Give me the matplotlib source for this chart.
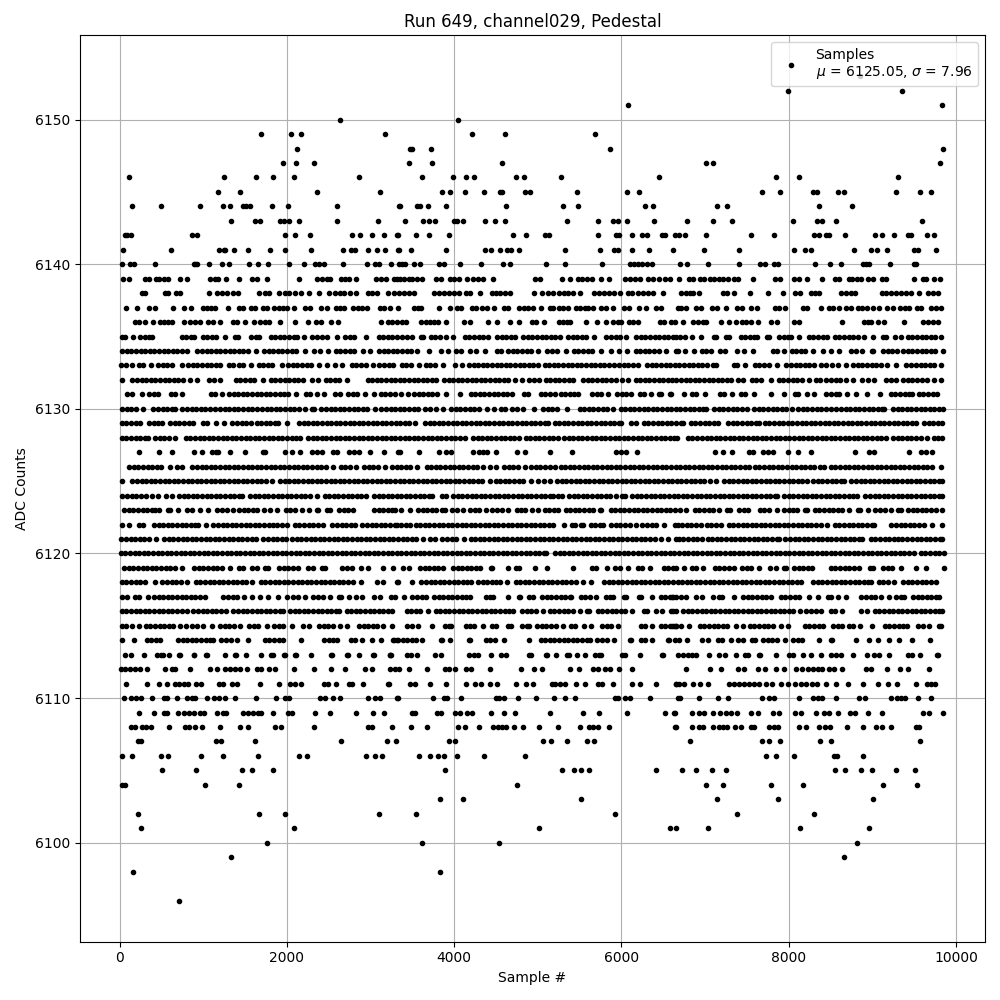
import matplotlib
matplotlib.use('Agg')
import matplotlib.pyplot as plt

# sample numbers, one list per ADC level
x_6153 = [8850]
x_6152 = [7995, 9350]
x_6151 = [6076, 9829]
x_6150 = [2633, 4044]
x_6149 = [1689, 2048, 2167, 3171, 4211, 4606, 5681]
x_6148 = [2119, 3470, 3492, 3721, 5860, 9841]
x_6147 = [1952, 2107, 2323, 3458, 3733, 4570, 7012, 7092, 9805]
x_6146 = [111, 1247, 1629, 1833, 2084, 2860, 3614, 3984, 4139, 4235, 4737, 4833, 5275, 6446, 7845, 8120, 9303]
x_6145 = [1175, 1438, 2358, 3112, 3853, 3948, 4127, 4355, 4550, 4570, 4850, 4904, 5466, 6064, 6207, 7677, 7892, 8287, 8335, 8586, 8657, 9279, 9566, 9697]
x_6144 = [147, 494, 960, 1235, 1319, 1478, 1510, 1562, 1820, 2012, 2598, 3335, 3351, 3554, 3594, 3685, 3900, 4617, 5299, 5478, 6279, 6375, 7139, 7259, 8359, 8753]
x_6143 = [1331, 1617, 1681, 1920, 1960, 2024, 2143, 2598, 3088, 3410, 3625, 3697, 3769, 3992, 4032, 4104, 4367, 4486, 4606, 5347, 5717, 5896, 5956, 6064, 6386, 6780, 7092, 7319, 8048, 8335, 8398, 8562, 9590]
x_6142 = [60, 88, 139, 865, 924, 1976, 2096, 2275, 2777, 2872, 3016, 3159, 3315, 3327, 3542, 3697, 3936, 4701, 4857, 5080, 5131, 5717, 5932, 5972, 6131, 6243, 6303, 6482, 6522, 6641, 6693, 6757, 7012, 7546, 7821, 8299, 8359, 8446, 8478, 8669, 9028, 9112, 9255, 9422, 9462, 9649, 9733]
x_6141 = [40, 614, 1191, 1243, 1263, 1367, 1534, 1797, 1976, 2287, 2669, 2761, 2809, 2968, 3076, 3171, 3327, 3339, 3482, 3900, 4367, 4438, 4550, 4630, 4678, 4773, 5323, 5741, 5916, 5956, 6124, 6327, 6613, 6984, 7402, 8060, 8199, 8263, 8777, 8980, 9052, 9171, 9494, 9542, 9757]
x_6140 = [28, 120, 167, 418, 884, 905, 924, 1068, 1223, 1307, 1546, 1653, 1773, 2024, 2203, 2331, 2379, 2438, 2669, 2956, 3056, 3104, 3243, 3335, 3375, 3415, 3514, 3586, 3813, 3873, 4064, 4319, 4582, 4665, 5096, 5323, 5765, 6104, 6155, 6203, 6251, 6303, 6363, 6697, 6781, 7032, 7402, 7657, 7721, 7829, 7869, 8311, 8490, 8622, 8884, 8924, 8964, 9207, 9494, 9522]
x_6139 = [40, 108, 307, 347, 434, 474, 526, 578, 721, 805, 1084, 1135, 1175, 1271, 1426, 1582, 1641, 1761, 2148, 2359, 2418, 2478, 2518, 2645, 2697, 2737, 2825, 3068, 3127, 3187, 3275, 3315, 3350, 3394, 3454, 3494, 3554, 3614, 3785, 3845, 3952, 4000, 4060, 4151, 4219, 4283, 4343, 4462, 4960, 5028, 5287, 5382, 5478, 5526, 5586, 5653, 5757, 5853, 6044, 6104, 6163, 6223, 6323, 6383, 6450, 6522, 6582, 6685, 6805, 6853, 6940, 6992, 7060, 7112, 7171, 7211, 7271, 7351, 7390, 7570, 7841, 7896, 8068, 8127, 8215, 8394, 8558, 8598, 8725, 8757, 8813, 8865, 8944, 9004, 9116, 9163, 9494, 9602, 9641, 9733, 9809]
x_6138 = [267, 299, 538, 578, 673, 721, 1068, 1163, 1223, 1283, 1351, 1414, 1669, 1741, 1789, 1904, 1972, 2020, 2100, 2167, 2267, 2379, 2498, 2578, 2637, 2677, 2757, 2825, 2968, 3016, 3076, 3207, 3275, 3335, 3394, 3454, 3514, 3753, 3813, 3873, 3932, 3992, 4052, 4139, 4183, 4307, 4450, 4498, 4550, 4610, 4669, 4952, 5048, 5127, 5187, 5247, 5307, 5366, 5426, 5506, 5673, 5733, 5797, 5853, 5912, 5988, 6084, 6124, 6203, 6263, 6323, 6375, 6494, 6713, 6773, 6821, 6861, 6924, 7211, 7259, 7343, 7534, 7749, 7928, 8072, 8131, 8263, 8319, 8367, 8625, 8685, 8745, 8793, 9116, 9163, 9223, 9283, 9343, 9402, 9462, 9562, 9661, 9721, 9781]
x_6137 = [76, 207, 351, 426, 637, 769, 857, 996, 1044, 1092, 1143, 1295, 1422, 1474, 1570, 1621, 1709, 1757, 1849, 1900, 1948, 2000, 2088, 2219, 2279, 2402, 2478, 2586, 2637, 2685, 2789, 2849, 2896, 2956, 3116, 3159, 3235, 3327, 3514, 3566, 3606, 3817, 3948, 4032, 4084, 4211, 4259, 4331, 4394, 4478, 4590, 4649, 4769, 4829, 4888, 4948, 5040, 5147, 5187, 5247, 5295, 5359, 5454, 5506, 5566, 5594, 5657, 5757, 5813, 5896, 6036, 6092, 6211, 6291, 6414, 6474, 6673, 6713, 6773, 6892, 6952, 7084, 7139, 7251, 7382, 7442, 7550, 7618, 7841, 7880, 7952, 8167, 8215, 8382, 8486, 8526, 8598, 8685, 8745, 8825, 8876, 8932, 9004, 9076, 9175, 9251, 9331, 9394, 9442, 9530, 9582, 9701, 9761, 9821]
x_6136 = [187, 227, 299, 402, 482, 526, 578, 625, 765, 845, 904, 964, 1056, 1112, 1199, 1351, 1402, 1494, 1610, 1673, 1733, 1789, 1920, 2096, 2251, 2347, 2406, 2530, 2610, 3128, 3207, 3255, 3315, 3375, 3426, 3602, 3661, 3713, 3753, 3805, 3904, 4112, 4183, 4402, 4513, 4665, 4769, 4928, 4976, 5068, 5247, 5295, 5347, 5386, 5574, 5705, 5813, 5896, 5956, 5992, 6092, 6143, 6203, 6462, 6514, 6594, 6641, 6733, 6861, 6912, 6972, 7012, 7187, 7283, 7367, 7442, 7490, 7550, 7637, 7785, 7857, 8068, 8127, 8634, 8904, 8944, 8984, 9064, 9135, 9374, 9610, 9661, 9721, 9781]
x_6135 = [30, 60, 155, 245, 300, 355, 385, 740, 795, 850, 890, 990, 1045, 1100, 1150, 1259, 1375, 1410, 1575, 1630, 1670, 1805, 1860, 1915, 1970, 2030, 2085, 2125, 2207, 2305, 2360, 2420, 2480, 2598, 2695, 2750, 2800, 2948, 3095, 3150, 3205, 3260, 3310, 3370, 3430, 3490, 3600, 3630, 3720, 3775, 3830, 3905, 3988, 4125, 4180, 4240, 4295, 4350, 4405, 4515, 4570, 4625, 4680, 4725, 4825, 4880, 4935, 4990, 5045, 5100, 5155, 5210, 5260, 5360, 5415, 5470, 5525, 5580, 5670, 5815, 5870, 5930, 5985, 6052, 6175, 6230, 6285, 6340, 6395, 6450, 6505, 6560, 6615, 6650, 6705, 6760, 6845, 6955, 7105, 7130, 7245, 7280, 7425, 7480, 7535, 7590, 7615, 7735, 7765, 7885, 7940, 7995, 8025, 8120, 8240, 8295, 8350, 8405, 8460, 8550, 8605, 8660, 8715, 8770, 8825, 8900, 9004, 9125, 9160, 9265, 9340, 9425, 9480, 9535, 9590, 9645, 9700, 9755, 9815]
x_6134 = [30, 85, 140, 195, 250, 305, 360, 415, 470, 525, 580, 635, 690, 745, 800, 930, 985, 1040, 1095, 1150, 1205, 1260, 1315, 1370, 1425, 1480, 1535, 1635, 1725, 1780, 1835, 1890, 1945, 2000, 2055, 2110, 2215, 2325, 2395, 2490, 2585, 2640, 2695, 2750, 2805, 2910, 2996, 3100, 3155, 3210, 3265, 3320, 3375, 3430, 3485, 3550, 3701, 3840, 3925, 4025, 4080, 4185, 4259, 4371, 4515, 4565, 4645, 4700, 4755, 4810, 4865, 4920, 5000, 5115, 5170, 5225, 5340, 5430, 5485, 5540, 5595, 5650, 5760, 5870, 5965, 6064, 6170, 6225, 6280, 6335, 6390, 6445, 6535, 6649, 6680, 6765, 6865, 6960, 7010, 7065, 7175, 7235, 7385, 7470, 7570, 7815, 7855, 7948, 8035, 8090, 8145, 8200, 8290, 8414, 8505, 8605, 8750, 8805, 8880, 8990, 9005, 9130, 9185, 9240, 9295, 9370, 9425, 9480, 9535, 9590, 9645, 9700, 9755, 9840]
x_6133 = [15, 70, 145, 225, 280, 375, 460, 515, 570, 625, 750, 820, 875, 930, 985, 1040, 1095, 1150, 1205, 1305, 1360, 1425, 1480, 1575, 1660, 1715, 1770, 1825, 1935, 2015, 2070, 2125, 2180, 2235, 2290, 2385, 2475, 2575, 2660, 2775, 2830, 2885, 2940, 3025, 3105, 3160, 3215, 3265, 3372, 3427, 3482, 3575, 3658, 3713, 3768, 3860, 4015, 4092, 4176, 4231, 4286, 4341, 4396, 4451, 4506, 4561, 4616, 4671, 4726, 4781, 4836, 4891, 4946, 5000, 5081, 5136, 5191, 5246, 5301, 5356, 5411, 5466, 5521, 5576, 5631, 5686, 5741, 5796, 5851, 5906, 5965, 6025, 6080, 6135, 6198, 6308, 6363, 6418, 6473, 6528, 6583, 6638, 6693, 6748, 6803, 6858, 6913, 6968, 7020, 7097, 7134, 7348, 7377, 7482, 7595, 7650, 7705, 7760, 7855, 7973, 8028, 8083, 8138, 8193, 8248, 8303, 8389, 8451, 8521, 8586, 8685, 8770, 8825, 8880, 8935, 8990, 9045, 9100, 9178, 9288, 9397, 9467, 9522, 9577, 9632, 9687, 9742, 9825]
x_6132 = [28, 152, 207, 262, 317, 372, 427, 482, 537, 592, 647, 702, 757, 840, 928, 1069, 1124, 1198, 1388, 1443, 1498, 1553, 1608, 1716, 1806, 1861, 1916, 1971, 2026, 2081, 2136, 2194, 2304, 2373, 2463, 2518, 2573, 2628, 2712, 2965, 3020, 3075, 3130, 3185, 3240, 3295, 3350, 3405, 3460, 3515, 3570, 3625, 3680, 3735, 3788, 3878, 3933, 3988, 4043, 4098, 4153, 4208, 4263, 4318, 4373, 4428, 4483, 4538, 4593, 4648, 4724, 4809, 4894, 4949, 5015, 5093, 5148, 5203, 5258, 5313, 5368, 5421, 5543, 5598, 5653, 5708, 5763, 5818, 5873, 5931, 6009, 6079, 6168, 6223, 6278, 6333, 6388, 6443, 6498, 6553, 6608, 6656, 6711, 6766, 6821, 6876, 6931, 6986, 7041, 7096, 7151, 7206, 7261, 7306, 7388, 7457, 7555, 7610, 7672, 7789, 7882, 7937, 7992, 8047, 8102, 8157, 8242, 8332, 8373, 8451, 8506, 8561, 8616, 8680, 8765, 8872, 8949, 9019, 9168, 9223, 9278, 9368, 9423, 9478, 9533, 9588, 9648, 9734, 9816]
x_6131 = [93, 148, 262, 352, 407, 461, 611, 665, 740, 1089, 1144, 1218, 1308, 1363, 1418, 1473, 1528, 1583, 1638, 1693, 1748, 1803, 1858, 1913, 1968, 2015, 2108, 2224, 2279, 2354, 2438, 2571, 2632, 2730, 2785, 2840, 2931, 3036, 3121, 3176, 3231, 3286, 3369, 3446, 3519, 3574, 3629, 3684, 3739, 3794, 3899, 4064, 4196, 4251, 4306, 4361, 4416, 4471, 4526, 4581, 4636, 4696, 4834, 4883, 5033, 5088, 5143, 5202, 5272, 5327, 5382, 5437, 5481, 5651, 5706, 5760, 5837, 5949, 6004, 6059, 6118, 6220, 6275, 6357, 6447, 6477, 6582, 6594, 6745, 6838, 6893, 6995, 7176, 7231, 7326, 7427, 7482, 7585, 7789, 7944, 8073, 8110, 8224, 8302, 8451, 8506, 8561, 8600, 8697, 8805, 8932, 9092, 9220, 9275, 9330, 9385, 9440, 9477, 9555, 9610, 9665, 9720, 9776]
x_6130 = [30, 85, 140, 195, 282, 403, 458, 513, 568, 623, 660, 750, 805, 860, 915, 970, 1025, 1075, 1145, 1200, 1255, 1310, 1365, 1420, 1475, 1530, 1577, 1646, 1701, 1756, 1811, 1866, 1921, 1976, 2031, 2086, 2141, 2214, 2296, 2322, 2411, 2466, 2521, 2576, 2631, 2686, 2741, 2796, 2851, 2906, 2961, 3051, 3129, 3184, 3239, 3294, 3349, 3404, 3459, 3514, 3569, 3650, 3705, 3780, 3865, 3965, 4020, 4075, 4130, 4185, 4234, 4291, 4396, 4473, 4555, 4610, 4696, 4749, 4821, 4956, 5065, 5120, 5175, 5230, 5353, 5499, 5554, 5609, 5664, 5719, 5774, 5829, 5899, 5989, 6044, 6099, 6154, 6209, 6264, 6319, 6374, 6429, 6484, 6539, 6594, 6649, 6704, 6759, 6814, 6869, 6924, 6979, 7007, 7109, 7164, 7219, 7274, 7329, 7384, 7439, 7505, 7587, 7642, 7697, 7752, 7807, 7862, 7917, 7972, 8043, 8113, 8168, 8223, 8278, 8333, 8388, 8443, 8501, 8571, 8626, 8681, 8736, 8791, 8846, 8901, 8956, 9011, 9066, 9121, 9138, 9248, 9303, 9358, 9413, 9468, 9523, 9578, 9633, 9688, 9743, 9798, 9850]
x_6129 = [25, 80, 135, 190, 242, 352, 407, 462, 501, 603, 658, 713, 768, 823, 871, 997, 1047, 1151, 1251, 1348, 1403, 1458, 1513, 1565, 1638, 1693, 1748, 1803, 1858, 1895, 2000, 2145, 2200, 2255, 2310, 2365, 2420, 2475, 2530, 2585, 2640, 2695, 2750, 2805, 2860, 2915, 2970, 3025, 3080, 3135, 3190, 3245, 3300, 3355, 3410, 3465, 3529, 3650, 3705, 3760, 3815, 3870, 3925, 3980, 4035, 4090, 4145, 4200, 4255, 4310, 4365, 4420, 4475, 4530, 4585, 4640, 4695, 4750, 4805, 4860, 4915, 4970, 5025, 5080, 5122, 5200, 5255, 5310, 5365, 5420, 5475, 5530, 5585, 5640, 5695, 5750, 5805, 5860, 5915, 5970, 5999, 6117, 6178, 6268, 6323, 6378, 6433, 6488, 6543, 6598, 6653, 6708, 6740, 6830, 6885, 6940, 6995, 7050, 7105, 7158, 7276, 7331, 7386, 7441, 7496, 7551, 7606, 7644, 7714, 7769, 7824, 7879, 7934, 7989, 8044, 8099, 8154, 8209, 8264, 8319, 8374, 8429, 8484, 8539, 8594, 8649, 8704, 8759, 8814, 8869, 8924, 8979, 9034, 9089, 9144, 9199, 9254, 9309, 9364, 9419, 9474, 9517, 9619, 9674, 9729, 9784, 9830]
x_6128 = [25, 80, 135, 190, 245, 300, 342, 423, 478, 533, 588, 660, 790, 845, 900, 955, 1010, 1065, 1120, 1175, 1230, 1285, 1340, 1395, 1450, 1505, 1560, 1615, 1670, 1725, 1780, 1835, 1890, 1945, 2000, 2055, 2110, 2154, 2252, 2307, 2362, 2417, 2472, 2527, 2582, 2637, 2692, 2747, 2802, 2857, 2912, 2967, 3022, 3077, 3132, 3187, 3242, 3297, 3352, 3407, 3462, 3517, 3572, 3627, 3682, 3737, 3792, 3847, 3902, 3957, 4012, 4067, 4126, 4224, 4279, 4334, 4389, 4444, 4499, 4554, 4609, 4664, 4719, 4774, 4854, 4909, 4964, 5019, 5074, 5129, 5184, 5239, 5312, 5367, 5422, 5477, 5532, 5587, 5642, 5697, 5752, 5807, 5862, 5917, 5972, 6027, 6082, 6137, 6192, 6247, 6302, 6357, 6412, 6467, 6522, 6577, 6632, 6668, 6790, 6845, 6900, 6967, 7017, 7072, 7127, 7182, 7237, 7292, 7347, 7402, 7457, 7512, 7567, 7622, 7677, 7732, 7787, 7842, 7897, 7952, 8007, 8062, 8117, 8172, 8227, 8282, 8337, 8392, 8447, 8502, 8557, 8612, 8667, 8722, 8777, 8832, 8887, 8942, 8997, 9052, 9107, 9158, 9248, 9303, 9358, 9413, 9468, 9523, 9578, 9648, 9734, 9789, 9830]
x_6127 = [231, 470, 625, 888, 984, 1109, 1150, 1178, 1319, 1498, 1718, 1736, 1980, 2060, 2159, 2299, 2358, 2418, 2546, 2598, 2737, 2797, 2857, 2996, 3159, 3327, 3355, 3574, 3813, 3900, 3964, 4223, 4299, 4340, 4394, 4498, 4749, 4845, 5143, 5406, 5940, 5996, 6052, 6183, 7124, 7211, 7319, 7522, 7570, 7689, 7749, 7817, 7988, 8116, 8263, 8793, 8964, 9024, 9434, 9582, 9641, 9713]
x_6126 = [113, 168, 223, 278, 333, 388, 443, 498, 600, 690, 740, 870, 925, 980, 1035, 1090, 1145, 1200, 1255, 1310, 1365, 1420, 1475, 1530, 1585, 1640, 1695, 1750, 1805, 1860, 1915, 1970, 2025, 2080, 2135, 2190, 2245, 2300, 2355, 2410, 2465, 2553, 2643, 2698, 2753, 2824, 2921, 2976, 3031, 3086, 3170, 3260, 3310, 3365, 3420, 3475, 3557, 3670, 3725, 3780, 3835, 3890, 3945, 4000, 4055, 4110, 4165, 4220, 4275, 4346, 4427, 4505, 4595, 4650, 4705, 4760, 4844, 4921, 4976, 5031, 5086, 5141, 5202, 5272, 5327, 5382, 5437, 5492, 5547, 5602, 5657, 5712, 5767, 5822, 5877, 5932, 5987, 6042, 6097, 6152, 6207, 6262, 6317, 6372, 6427, 6482, 6537, 6592, 6647, 6702, 6757, 6812, 6867, 6922, 6977, 7032, 7087, 7142, 7197, 7252, 7307, 7362, 7417, 7472, 7525, 7595, 7650, 7705, 7760, 7815, 7870, 7925, 7980, 8035, 8090, 8145, 8200, 8255, 8302, 8372, 8421, 8503, 8558, 8613, 8668, 8723, 8778, 8833, 8888, 8943, 8998, 9053, 9108, 9163, 9218, 9273, 9328, 9383, 9438, 9493, 9548, 9603, 9658, 9716, 9817]
x_6125 = [28, 152, 207, 262, 317, 372, 427, 482, 537, 592, 647, 702, 757, 812, 867, 922, 977, 1032, 1087, 1142, 1197, 1252, 1307, 1362, 1417, 1472, 1527, 1582, 1637, 1692, 1747, 1824, 1917, 1972, 2027, 2082, 2137, 2192, 2247, 2302, 2357, 2412, 2467, 2522, 2577, 2632, 2687, 2742, 2797, 2852, 2907, 2962, 3017, 3072, 3127, 3182, 3237, 3292, 3347, 3402, 3457, 3512, 3567, 3622, 3677, 3732, 3787, 3842, 3897, 3952, 4007, 4062, 4117, 4172, 4227, 4282, 4337, 4425, 4495, 4550, 4605, 4660, 4715, 4770, 4825, 4923, 5000, 5073, 5142, 5232, 5287, 5342, 5397, 5452, 5507, 5562, 5617, 5672, 5727, 5782, 5837, 5892, 5947, 6002, 6057, 6112, 6167, 6222, 6277, 6332, 6387, 6442, 6497, 6552, 6607, 6662, 6717, 6772, 6827, 6882, 6937, 6987, 7057, 7126, 7228, 7283, 7338, 7393, 7448, 7503, 7558, 7613, 7668, 7723, 7778, 7833, 7888, 7943, 7998, 8053, 8108, 8163, 8222, 8292, 8347, 8402, 8457, 8512, 8567, 8622, 8660, 8750, 8805, 8860, 8915, 8970, 9025, 9080, 9135, 9190, 9245, 9300, 9355, 9410, 9465, 9520, 9575, 9630, 9685, 9740, 9795, 9835]
x_6124 = [33, 88, 143, 198, 253, 314, 392, 461, 551, 620, 710, 765, 820, 875, 930, 985, 1040, 1095, 1150, 1205, 1260, 1315, 1370, 1425, 1457, 1559, 1614, 1669, 1724, 1779, 1834, 1889, 1944, 1999, 2054, 2109, 2164, 2219, 2274, 2358, 2451, 2506, 2561, 2616, 2671, 2726, 2781, 2836, 2891, 2951, 3041, 3096, 3151, 3206, 3261, 3310, 3365, 3420, 3475, 3530, 3585, 3640, 3695, 3740, 3858, 3907, 3989, 4044, 4099, 4154, 4209, 4264, 4319, 4374, 4429, 4484, 4539, 4594, 4649, 4704, 4759, 4814, 4869, 4924, 4979, 5034, 5089, 5144, 5182, 5244, 5294, 5372, 5427, 5482, 5537, 5592, 5647, 5702, 5757, 5812, 5867, 5939, 6009, 6039, 6129, 6184, 6239, 6294, 6349, 6404, 6459, 6514, 6569, 6624, 6679, 6734, 6789, 6844, 6899, 6954, 7009, 7064, 7119, 7174, 7229, 7284, 7339, 7394, 7449, 7504, 7559, 7614, 7669, 7724, 7779, 7834, 7863, 7945, 8000, 8055, 8110, 8165, 8220, 8275, 8330, 8385, 8440, 8495, 8550, 8605, 8660, 8715, 8770, 8820, 8917, 8972, 9027, 9082, 9137, 9192, 9247, 9302, 9357, 9412, 9467, 9522, 9577, 9632, 9687, 9742, 9797, 9832]
x_6123 = [53, 108, 163, 218, 273, 328, 383, 421, 474, 579, 600, 697, 810, 865, 959, 1056, 1168, 1223, 1278, 1350, 1427, 1482, 1537, 1592, 1644, 1726, 1796, 1880, 1985, 2040, 2095, 2184, 2262, 2356, 2373, 2475, 2513, 2623, 2678, 2733, 2792, 3041, 3096, 3151, 3206, 3261, 3290, 3368, 3477, 3567, 3622, 3677, 3732, 3780, 3858, 3887, 3977, 4032, 4106, 4188, 4243, 4298, 4385, 4455, 4510, 4577, 4649, 4746, 4801, 4844, 4933, 5003, 5081, 5136, 5191, 5242, 5332, 5387, 5442, 5497, 5552, 5607, 5660, 5742, 5760, 5870, 5925, 5980, 6035, 6090, 6145, 6200, 6255, 6310, 6365, 6420, 6475, 6530, 6585, 6640, 6695, 6768, 6878, 6933, 6988, 7043, 7098, 7166, 7256, 7298, 7407, 7462, 7513, 7654, 7709, 7764, 7863, 7945, 8000, 8055, 8102, 8192, 8214, 8312, 8367, 8422, 8477, 8532, 8587, 8642, 8720, 8830, 8851, 8944, 9037, 9092, 9147, 9226, 9308, 9337, 9427, 9482, 9537, 9592, 9647, 9702, 9757, 9830]
x_6122 = [25, 114, 232, 274, 411, 466, 521, 576, 631, 686, 741, 796, 851, 906, 939, 1032, 1121, 1176, 1231, 1286, 1341, 1396, 1451, 1506, 1561, 1616, 1671, 1726, 1781, 1836, 1875, 1945, 1995, 2093, 2148, 2203, 2258, 2313, 2368, 2433, 2543, 2598, 2653, 2708, 2763, 2812, 2902, 2957, 3012, 3067, 3122, 3177, 3232, 3287, 3310, 3365, 3420, 3477, 3539, 3594, 3649, 3704, 3759, 3814, 3869, 3924, 3979, 4034, 4089, 4144, 4199, 4254, 4309, 4364, 4419, 4474, 4529, 4584, 4639, 4694, 4749, 4804, 4859, 4914, 4969, 5024, 5079, 5134, 5182, 5307, 5411, 5441, 5519, 5541, 5631, 5686, 5741, 5780, 5878, 5933, 5988, 6043, 6098, 6170, 6243, 6308, 6363, 6418, 6505, 6641, 6670, 6725, 6780, 6835, 6890, 6955, 7017, 7072, 7127, 7194, 7284, 7339, 7394, 7449, 7497, 7555, 7610, 7665, 7720, 7775, 7830, 7885, 7940, 7995, 8050, 8105, 8160, 8215, 8270, 8325, 8380, 8461, 8551, 8606, 8661, 8716, 8771, 8826, 8881, 8936, 8991, 9019, 9228, 9283, 9338, 9393, 9448, 9503, 9558, 9616, 9713, 9829]
x_6121 = [20, 75, 130, 185, 240, 295, 350, 429, 531, 586, 641, 696, 751, 806, 861, 916, 971, 1026, 1081, 1136, 1191, 1246, 1301, 1356, 1411, 1466, 1521, 1576, 1631, 1708, 1774, 1829, 1884, 1939, 1994, 2055, 2117, 2172, 2227, 2282, 2337, 2392, 2447, 2502, 2557, 2612, 2667, 2722, 2777, 2832, 2887, 2942, 2997, 3052, 3107, 3162, 3217, 3272, 3327, 3382, 3437, 3492, 3547, 3628, 3710, 3765, 3848, 3917, 3972, 4027, 4114, 4196, 4251, 4306, 4361, 4416, 4471, 4526, 4581, 4636, 4691, 4746, 4801, 4856, 4911, 4966, 5021, 5076, 5131, 5186, 5241, 5296, 5351, 5406, 5461, 5516, 5571, 5626, 5681, 5736, 5791, 5846, 5901, 5956, 6011, 6066, 6121, 6176, 6231, 6286, 6341, 6396, 6477, 6554, 6658, 6686, 6741, 6796, 6851, 6906, 6967, 7029, 7084, 7139, 7194, 7249, 7304, 7359, 7414, 7469, 7524, 7579, 7634, 7689, 7744, 7799, 7854, 7883, 7961, 8016, 8071, 8126, 8181, 8236, 8291, 8346, 8401, 8456, 8511, 8566, 8621, 8676, 8731, 8786, 8841, 8879, 8981, 9036, 9091, 9146, 9201, 9256, 9311, 9357, 9419, 9474, 9529, 9584, 9639, 9694, 9749, 9804, 9830]
x_6120 = [13, 68, 123, 178, 233, 288, 343, 398, 453, 508, 563, 618, 673, 728, 783, 838, 893, 948, 1003, 1058, 1113, 1168, 1223, 1278, 1333, 1388, 1443, 1498, 1553, 1608, 1663, 1718, 1773, 1828, 1883, 1938, 1993, 2048, 2103, 2158, 2213, 2268, 2323, 2378, 2433, 2488, 2543, 2598, 2653, 2708, 2763, 2818, 2873, 2928, 2983, 3038, 3093, 3148, 3203, 3258, 3313, 3368, 3423, 3478, 3533, 3588, 3643, 3698, 3753, 3808, 3863, 3918, 3973, 4028, 4083, 4138, 4193, 4248, 4303, 4358, 4413, 4468, 4523, 4578, 4633, 4688, 4743, 4798, 4853, 4908, 4963, 5018, 5073, 5102, 5204, 5259, 5314, 5369, 5424, 5479, 5534, 5589, 5644, 5699, 5754, 5809, 5864, 5919, 5974, 6029, 6084, 6139, 6194, 6249, 6304, 6359, 6414, 6469, 6524, 6579, 6634, 6689, 6744, 6799, 6854, 6909, 6964, 7019, 7074, 7129, 7184, 7239, 7294, 7349, 7404, 7459, 7514, 7569, 7624, 7679, 7734, 7789, 7844, 7899, 7954, 8009, 8064, 8119, 8174, 8229, 8284, 8339, 8394, 8449, 8504, 8559, 8614, 8669, 8724, 8779, 8834, 8889, 8944, 8999, 9054, 9109, 9164, 9219, 9274, 9329, 9384, 9439, 9497, 9579, 9634, 9689, 9744, 9799, 9855]
x_6119 = [53, 108, 163, 218, 273, 328, 383, 438, 493, 548, 603, 658, 740, 890, 945, 1000, 1055, 1110, 1165, 1220, 1318, 1427, 1477, 1587, 1636, 1734, 1776, 1905, 1960, 2015, 2075, 2131, 2252, 2314, 2423, 2453, 2662, 2717, 2772, 2882, 2963, 3153, 3262, 3382, 3462, 3591, 3646, 3701, 3756, 3811, 3860, 3985, 4040, 4095, 4150, 4205, 4260, 4306, 4435, 4457, 4641, 4734, 4776, 4964, 5115, 5426, 5651, 5700, 5825, 5917, 5979, 6084, 6196, 6251, 6338, 6507, 6562, 6617, 6648, 6748, 6838, 6893, 6979, 7117, 7172, 7227, 7282, 7345, 7443, 7498, 7553, 7644, 7774, 7844, 7945, 7963, 8065, 8120, 8175, 8230, 8282, 8503, 8558, 8613, 8668, 8723, 8778, 8840, 8969, 9011, 9129, 9184, 9239, 9337, 9519, 9636, 9853]
x_6118 = [25, 80, 135, 190, 245, 300, 421, 511, 566, 621, 676, 731, 800, 910, 965, 1020, 1075, 1130, 1185, 1240, 1295, 1350, 1405, 1460, 1515, 1577, 1686, 1741, 1796, 1851, 1906, 1961, 2016, 2071, 2126, 2181, 2236, 2291, 2346, 2401, 2456, 2511, 2566, 2621, 2676, 2731, 2786, 2891, 3081, 3150, 3315, 3327, 3494, 3607, 3662, 3717, 3772, 3827, 3882, 3937, 3992, 4047, 4102, 4157, 4206, 4284, 4339, 4394, 4449, 4504, 4545, 4632, 4734, 4789, 4844, 4899, 4954, 5009, 5064, 5119, 5174, 5229, 5284, 5339, 5394, 5461, 5543, 5640, 5790, 5845, 5900, 5955, 6010, 6065, 6120, 6175, 6230, 6285, 6340, 6395, 6450, 6505, 6560, 6615, 6670, 6725, 6780, 6835, 6890, 6945, 7000, 7055, 7110, 7165, 7220, 7275, 7330, 7385, 7440, 7495, 7550, 7605, 7660, 7715, 7770, 7825, 7880, 7935, 7990, 8045, 8100, 8142, 8292, 8347, 8402, 8457, 8512, 8567, 8622, 8677, 8732, 8787, 8842, 8897, 8952, 8979, 9077, 9132, 9187, 9258, 9368, 9423, 9478, 9533, 9588, 9643, 9698, 9756]
x_6117 = [33, 83, 180, 234, 339, 411, 466, 521, 576, 631, 686, 741, 796, 851, 906, 961, 1019, 1240, 1295, 1350, 1405, 1487, 1581, 1678, 1776, 1893, 2003, 2077, 2132, 2214, 2316, 2371, 2426, 2513, 2623, 2652, 2745, 2822, 2903, 3041, 3110, 3240, 3290, 3394, 3499, 3554, 3609, 3664, 3758, 3813, 3868, 3923, 3978, 4033, 4088, 4143, 4186, 4376, 4431, 4465, 4649, 4774, 4789, 4894, 4943, 5053, 5108, 5163, 5218, 5273, 5328, 5383, 5401, 5511, 5566, 5621, 5700, 5810, 5865, 5899, 6029, 6059, 6208, 6238, 6363, 6467, 6522, 6577, 6616, 6599, 6654, 6709, 6768, 6886, 6967, 7092, 7171, 7206, 7343, 7455, 7510, 7565, 7620, 7675, 7730, 7784, 7905, 7960, 8015, 8070, 8122, 8247, 8347, 8471, 8501, 8586, 8685, 8870, 8925, 8980, 9035, 9099, 9195, 9288, 9343, 9377, 9487, 9542, 9597, 9652, 9707, 9762, 9800]
x_6116 = [25, 80, 135, 190, 245, 300, 355, 410, 465, 520, 575, 630, 685, 740, 800, 882, 937, 992, 1047, 1102, 1157, 1212, 1267, 1350, 1416, 1471, 1526, 1581, 1636, 1691, 1746, 1801, 1856, 1911, 1947, 2037, 2092, 2147, 2202, 2257, 2312, 2367, 2422, 2477, 2532, 2587, 2624, 2714, 2769, 2824, 2879, 2934, 2989, 3044, 3099, 3154, 3209, 3250, 3431, 3486, 3541, 3596, 3688, 3778, 3833, 3888, 3943, 3998, 4053, 4108, 4163, 4218, 4273, 4328, 4383, 4438, 4493, 4548, 4603, 4658, 4704, 4814, 4869, 4924, 4979, 5063, 5144, 5199, 5254, 5309, 5364, 5419, 5509, 5591, 5612, 5718, 5773, 5828, 5883, 5938, 5993, 6048, 6130, 6268, 6306, 6407, 6489, 6587, 6616, 6648, 6738, 6793, 6848, 6903, 6958, 7013, 7068, 7123, 7178, 7233, 7288, 7343, 7398, 7453, 7508, 7563, 7618, 7673, 7728, 7783, 7838, 7893, 7948, 8003, 8055, 8135, 8212, 8267, 8322, 8389, 8503, 8558, 8640, 8870, 8939, 9029, 9084, 9139, 9194, 9249, 9304, 9359, 9414, 9469, 9524, 9579, 9634, 9689, 9744, 9799, 9830]
x_6115 = [25, 80, 142, 235, 312, 367, 422, 477, 532, 587, 642, 720, 793, 870, 925, 999, 1104, 1200, 1255, 1310, 1365, 1437, 1547, 1602, 1657, 1756, 1846, 1901, 1956, 2055, 2196, 2266, 2383, 2438, 2493, 2548, 2632, 2717, 2862, 2917, 2972, 3027, 3082, 3150, 3255, 3439, 3494, 3569, 3733, 3886, 3941, 3967, 4137, 4192, 4234, 4343, 4455, 4505, 4642, 4684, 4814, 4869, 4895, 4993, 5048, 5103, 5158, 5222, 5295, 5392, 5441, 5550, 5633, 5770, 5825, 5880, 5959, 6228, 6283, 6369, 6467, 6522, 6577, 6632, 6656, 6599, 6654, 6709, 6808, 6937, 6992, 7047, 7102, 7157, 7212, 7267, 7365, 7450, 7535, 7590, 7645, 7700, 7755, 7816, 7913, 7991, 8192, 8247, 8302, 8357, 8413, 8531, 8586, 8640, 8718, 8773, 8851, 8992, 9149, 9204, 9259, 9314, 9369, 9409, 9547, 9602, 9676, 9798, 9825]
x_6114 = [28, 171, 324, 379, 434, 481, 698, 753, 808, 863, 918, 973, 1028, 1083, 1110, 1216, 1271, 1326, 1397, 1534, 1734, 1789, 1844, 1899, 1947, 2167, 2443, 2498, 2553, 2593, 2770, 2812, 2896, 3016, 3128, 3280, 3310, 3272, 3327, 3382, 3437, 3492, 3547, 3609, 3838, 3848, 3948, 4176, 4186, 4376, 4431, 4485, 4594, 4892, 5033, 5088, 5143, 5198, 5253, 5308, 5363, 5418, 5473, 5528, 5583, 5620, 5710, 5765, 5828, 5908, 6109, 6099, 6228, 6280, 6363, 6554, 6641, 6574, 6693, 6781, 6965, 7035, 7149, 7204, 7306, 7395, 7457, 7555, 7593, 7694, 7749, 7804, 7859, 7951, 8053, 8108, 8162, 8359, 8511, 8521, 8805, 8964, 9064, 9195, 9323, 9474, 9689]
x_6113 = [61, 130, 291, 443, 498, 521, 590, 710, 720, 890, 887, 1029, 1047, 1259, 1376, 1389, 1510, 1693, 1814, 1836, 1965, 1975, 2105, 2095, 2287, 2531, 2533, 2714, 2732, 2865, 3041, 3031, 3240, 3230, 3235, 3431, 3486, 3549, 3773, 3841, 4176, 4231, 4286, 4438, 4562, 4617, 4894, 4923, 5105, 5094, 5219, 5352, 5373, 5466, 5566, 5678, 5733, 5760, 6009, 6039, 6219, 6499, 6489, 6673, 6738, 6793, 6848, 6887, 7052, 7163, 7243, 7370, 7483, 7513, 7654, 7644, 7845, 8001, 8055, 8175, 8263, 8386, 8511, 8566, 8620, 8765, 8932, 9024, 9084, 9195, 9422, 9474, 9570, 9776, 9786]
x_6112 = [13, 68, 127, 187, 247, 323, 538, 625, 665, 845, 1084, 1163, 1263, 1323, 1383, 1442, 1522, 1641, 1693, 1785, 1861, 2084, 2323, 2526, 2689, 2928, 3016, 3235, 3295, 3343, 3458, 3673, 3892, 3940, 4012, 4143, 4203, 4430, 4797, 4952, 5048, 5382, 5490, 5665, 5725, 5805, 5865, 5968, 6124, 6769, 7060, 7187, 7390, 7470, 7629, 7721, 7845, 7940, 8084, 8159, 8227, 8287, 8347, 8398, 8478, 8546, 8634, 8924, 8984, 9171, 9327, 9422, 9677]
x_6111 = [76, 327, 474, 562, 657, 705, 765, 813, 912, 976, 1183, 1231, 1343, 1406, 1677, 1904, 2040, 2100, 2167, 2438, 2486, 2586, 2737, 2777, 2908, 3207, 3215, 3474, 3534, 3709, 3900, 4139, 4247, 4319, 4426, 4510, 4737, 4857, 4940, 5167, 5207, 5267, 5327, 5454, 5562, 5717, 5765, 5896, 6124, 6219, 6410, 6649, 6653, 6693, 6753, 6853, 6936, 7032, 7283, 7351, 7410, 7470, 7530, 7590, 7641, 7729, 7797, 7908, 7988, 8080, 8147, 8207, 8279, 8335, 8442, 8562, 8705, 8884, 9064, 9183, 9291, 9518, 9649, 9701, 9745]
x_6110 = [52, 139, 195, 255, 386, 526, 566, 681, 805, 865, 904, 1044, 1124, 1183, 1259, 1382, 1629, 1869, 1980, 2028, 2390, 2458, 2550, 2633, 2968, 3056, 3116, 3315, 3323, 3745, 3873, 3912, 4080, 4498, 4538, 4590, 4765, 4976, 5191, 5323, 5442, 5924, 5964, 6044, 6104, 6339, 6673, 6697, 6924, 7151, 7271, 7677, 7769, 7829, 8120, 8295, 8347, 8398, 8562, 8845, 8912, 9219, 9291, 9343, 9394, 9546, 9701]
x_6109 = [231, 410, 526, 566, 697, 765, 825, 884, 964, 1012, 1163, 1235, 1275, 1474, 1534, 1594, 1653, 1693, 1833, 2008, 2064, 2335, 2514, 2825, 3028, 3159, 3494, 3534, 3793, 3845, 4004, 4072, 4151, 4211, 4438, 4594, 4725, 5143, 5534, 5733, 6064, 6518, 6625, 6637, 6841, 6932, 6992, 7092, 7175, 7247, 7311, 7386, 7550, 7629, 7809, 7888, 8072, 8143, 8323, 8426, 8486, 8586, 8737, 8793, 8944, 9112, 9602, 9673, 9841]
x_6108 = [135, 187, 267, 315, 374, 590, 777, 825, 900, 984, 1199, 1438, 1534, 1857, 1928, 2323, 2968, 3016, 3255, 3482, 3673, 4044, 4123, 4295, 4462, 4522, 4570, 4617, 4713, 4821, 5012, 5239, 5502, 5610, 5665, 5717, 5845, 6641, 6653, 6841, 6924, 6980, 7092, 7171, 7211, 7263, 7355, 7426, 7550, 7590, 7769, 7829, 7869, 8120, 8203, 8358, 8430, 8494, 8693, 8884, 9040, 9112, 9219, 9522, 9562]
x_6107 = [219, 255, 1151, 1211, 1617, 2645, 3195, 3303, 3940, 4004, 5060, 5155, 5347, 5586, 5669, 6817, 7677, 7761, 7892, 8370, 8502, 9566]
x_6106 = [28, 147, 494, 578, 972, 1235, 1653, 2143, 2239, 2944, 3052, 3135, 3578, 3709, 3805, 3876, 4032, 4355, 4845, 7725, 7845, 8060, 8538, 8574, 8884]
x_6105 = [506, 912, 1462, 1582, 1833, 3888, 5287, 5430, 5514, 5610, 6410, 6721, 6888, 7080, 7247, 8550, 8669, 8861, 8992, 9279, 9506]
x_6104 = [28, 60, 1020, 1426, 4749, 7008, 7211, 7785, 8167, 9123, 9530]
x_6103 = [3829, 4104, 5514, 7139, 7869, 9004]
x_6102 = [219, 1665, 1976, 3100, 3542, 5920, 7378, 8299]
x_6101 = [255, 2084, 5012, 6578, 6657, 7032, 8131, 8956]
x_6100 = [1761, 3614, 4534, 8813]
x_6099 = [1331, 8657]
x_6098 = [159, 3829]
x_6096 = [709]

levels = [
    (6153, x_6153), (6152, x_6152), (6151, x_6151), (6150, x_6150), (6149, x_6149),
    (6148, x_6148), (6147, x_6147), (6146, x_6146), (6145, x_6145), (6144, x_6144),
    (6143, x_6143), (6142, x_6142), (6141, x_6141), (6140, x_6140), (6139, x_6139),
    (6138, x_6138), (6137, x_6137), (6136, x_6136), (6135, x_6135), (6134, x_6134),
    (6133, x_6133), (6132, x_6132), (6131, x_6131), (6130, x_6130), (6129, x_6129),
    (6128, x_6128), (6127, x_6127), (6126, x_6126), (6125, x_6125), (6124, x_6124),
    (6123, x_6123), (6122, x_6122), (6121, x_6121), (6120, x_6120), (6119, x_6119),
    (6118, x_6118), (6117, x_6117), (6116, x_6116), (6115, x_6115), (6114, x_6114),
    (6113, x_6113), (6112, x_6112), (6111, x_6111), (6110, x_6110), (6109, x_6109),
    (6108, x_6108), (6107, x_6107), (6106, x_6106), (6105, x_6105), (6104, x_6104),
    (6103, x_6103), (6102, x_6102), (6101, x_6101), (6100, x_6100), (6099, x_6099),
    (6098, x_6098), (6096, x_6096),
]

samples = []
counts = []
for level, xs in levels:
    samples += xs
    counts += [level] * len(xs)

fig, ax = plt.subplots(figsize=(10, 10))
ax.plot(samples, counts, 'k.', label='Samples\n$\\mu$ = 6125.05, $\\sigma$ = 7.96')
ax.set_title('Run 649, channel029, Pedestal')
ax.set_xlabel('Sample #')
ax.set_ylabel('ADC Counts')
ax.legend(loc='upper right')
ax.grid(True)
plt.tight_layout()
# axes top sits at y=35 in the reference
plt.subplots_adjust(top=0.965)
plt.savefig('out.png', dpi=100)
